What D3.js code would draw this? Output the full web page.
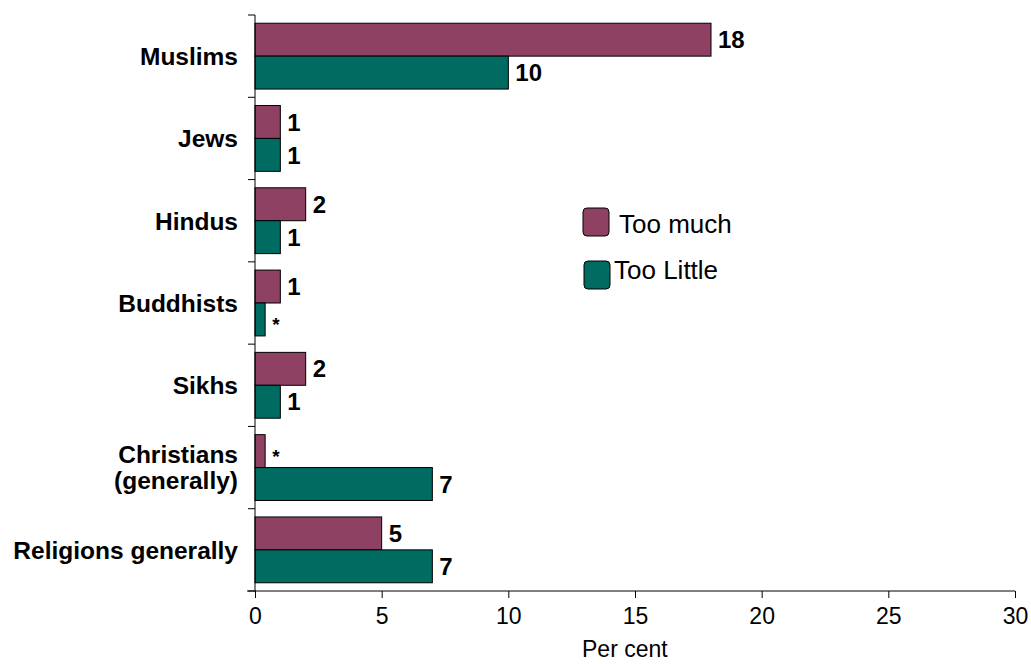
<!DOCTYPE html>
<html>
<head>
<meta charset="utf-8">
<script src="https://cdn.jsdelivr.net/npm/d3@7/dist/d3.min.js"></script>
<style>
  body { margin: 0; background: #fff; }
  svg { display: block; font-family: Arial, "Liberation Sans", sans-serif; }
</style>
</head>
<body>
<svg id="chart" width="1031" height="664"></svg>
<script>
// Categories, top to bottom
const categories = ["Muslims", "Jews", "Hindus", "Buddhists", "Sikhs", "Christians\n(generally)", "Religions generally"];
const seriesNames = ["Too much", "Too Little"];
// Per cent values; 0.4 marks a share shown as "*" (less than 0.5)
const tooMuch   = [18, 1, 2, 1, 2, 0.4, 5];
const tooLittle = [10, 1, 1, 0.4, 1, 7, 7];
const xTicks = [0, 5, 10, 15, 20, 25, 30];
const colors = ["#8e4163", "#006b60"];

const svg = d3.select("#chart");
const margin = { left: 255, right: 16, top: 15, bottom: 73 };
const W = 1031, H = 664;

const x = d3.scaleLinear().domain([0, 30]).range([margin.left, W - margin.right]);
const y = d3.scaleBand().domain(categories).range([margin.top, H - margin.bottom]).paddingInner(0.2).paddingOuter(0.1);
const yOuter = d3.scaleBand().domain(categories).range([margin.top, H - margin.bottom]);
const ySub = d3.scaleBand().domain(seriesNames).range([0, y.bandwidth()]);

const fmt = v => v < 0.5 ? "*" : String(v);
const series = [tooMuch, tooLittle];

// Bars and value labels
series.forEach((vals, si) => {
  const g = svg.append("g");
  g.selectAll("rect").data(vals).join("rect")
    .attr("x", x(0))
    .attr("y", (d, i) => y(categories[i]) + ySub(seriesNames[si]))
    .attr("width", d => x(d) - x(0))
    .attr("height", ySub.bandwidth())
    .attr("fill", colors[si])
    .attr("stroke", "#000")
    .attr("stroke-width", 1);
  g.selectAll("text").data(vals).join("text")
    .attr("x", d => x(d) + 7)
    .attr("y", (d, i) => y(categories[i]) + ySub(seriesNames[si]) + ySub.bandwidth() / 2)
    .attr("dy", d => d < 0.5 ? "0.6em" : "0.36em")
    .attr("font-size", d => d < 0.5 ? 19 : 24)
    .attr("font-weight", "bold")
    .attr("fill", "#000")
    .text(fmt);
});

// Y axis line with band-boundary ticks
const yAxisG = svg.append("g");
yAxisG.append("line")
  .attr("x1", x(0)).attr("x2", x(0))
  .attr("y1", margin.top).attr("y2", H - margin.bottom)
  .attr("stroke", "#000");
const bounds = categories.map(c => yOuter(c)).concat([H - margin.bottom]);
yAxisG.selectAll("line.tk").data(bounds).join("line")
  .attr("class", "tk")
  .attr("x1", x(0) - 7).attr("x2", x(0))
  .attr("y1", d => d).attr("y2", d => d)
  .attr("stroke", "#000");

// Category labels
const catG = svg.append("g");
categories.forEach(c => {
  const lines = c.split("\n");
  const cy = yOuter(c) + yOuter.bandwidth() / 2;
  const t = catG.append("text")
    .attr("x", 238)
    .attr("text-anchor", "end")
    .attr("font-size", 24.5)
    .attr("font-weight", "bold")
    .attr("fill", "#000");
  lines.forEach((ln, k) => {
    t.append("tspan")
      .attr("x", 238)
      .attr("y", cy + (k - (lines.length - 1) / 2) * 26)
      .attr("dy", "0.36em")
      .text(ln);
  });
});

// X axis
const xAxis = d3.axisBottom(x).tickValues(xTicks).tickSize(7).tickPadding(10).tickSizeOuter(0);
const xg = svg.append("g")
  .attr("transform", `translate(0,${H - margin.bottom})`)
  .call(xAxis);
xg.select(".domain").remove();
xg.append("line")
  .attr("x1", x(0) - 8).attr("x2", x(30))
  .attr("y1", 0).attr("y2", 0)
  .attr("stroke", "#000");
xg.selectAll(".tick line").attr("stroke", "#000");
xg.selectAll(".tick text")
  .attr("font-size", 23)
  .attr("font-family", "Arial, 'Liberation Sans', sans-serif")
  .attr("fill", "#000");

svg.append("text")
  .attr("x", x(14.6))
  .attr("y", 657)
  .attr("text-anchor", "middle")
  .attr("font-size", 23)
  .attr("fill", "#000")
  .text("Per cent");

// Legend
const legend = svg.append("g");
const legendItems = [
  { name: seriesNames[0], color: colors[0], rx: 583, ry: 208, tx: 619, ty: 224 },
  { name: seriesNames[1], color: colors[1], rx: 584, ry: 261, tx: 614, ty: 270 }
];
legendItems.forEach(it => {
  legend.append("rect")
    .attr("x", it.rx).attr("y", it.ry)
    .attr("width", 26).attr("height", 28)
    .attr("rx", 4).attr("ry", 4)
    .attr("fill", it.color)
    .attr("stroke", "#000")
    .attr("stroke-width", 1);
  legend.append("text")
    .attr("x", it.tx).attr("y", it.ty)
    .attr("dy", "0.36em")
    .attr("font-size", 26)
    .attr("fill", "#000")
    .text(it.name);
});
</script>
</body>
</html>
